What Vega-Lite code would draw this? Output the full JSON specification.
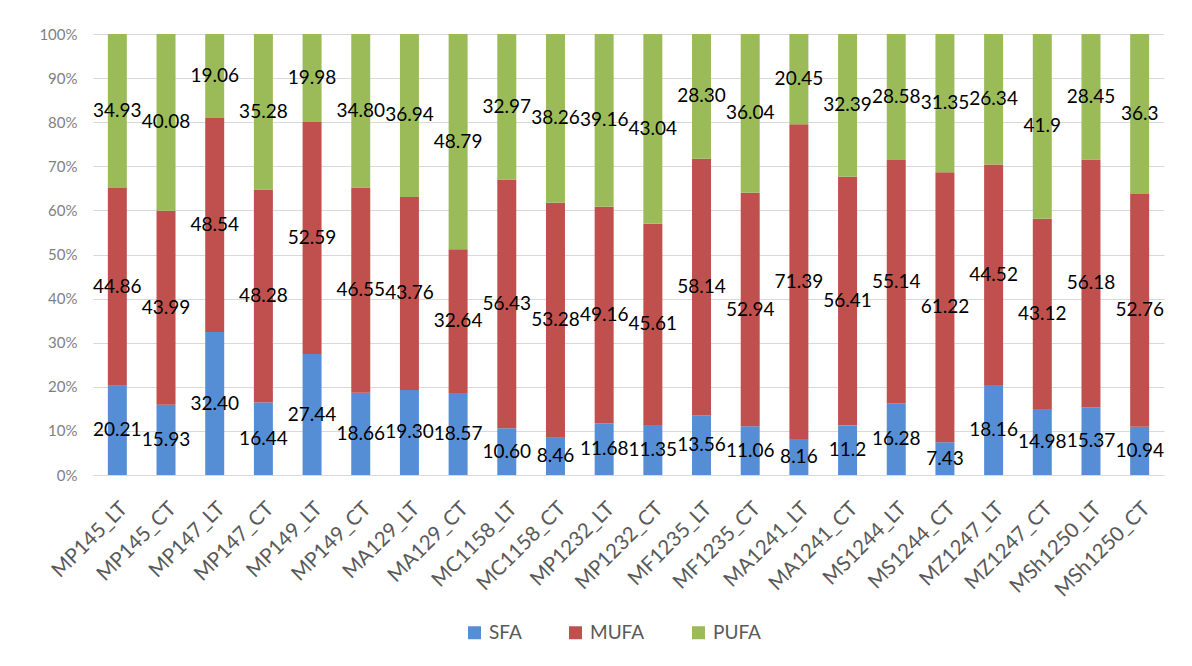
{
  "$schema": "https://vega.github.io/schema/vega-lite/v6.json",
  "width": 1071,
  "height": 441,
  "autosize": {"type": "none"},
  "padding": {"left": 93, "top": 34, "right": 28, "bottom": 191},
  "background": "white",
  "config": {
    "font": "Lato",
    "view": {"stroke": null}
  },
  "data": {
    "values": [
      {"s": "MP145_LT", "fa": "SFA", "v": 20.21, "t": "20.21"},
      {"s": "MP145_LT", "fa": "MUFA", "v": 44.86, "t": "44.86"},
      {"s": "MP145_LT", "fa": "PUFA", "v": 34.93, "t": "34.93"},
      {"s": "MP145_CT", "fa": "SFA", "v": 15.93, "t": "15.93"},
      {"s": "MP145_CT", "fa": "MUFA", "v": 43.99, "t": "43.99"},
      {"s": "MP145_CT", "fa": "PUFA", "v": 40.08, "t": "40.08"},
      {"s": "MP147_LT", "fa": "SFA", "v": 32.40, "t": "32.40"},
      {"s": "MP147_LT", "fa": "MUFA", "v": 48.54, "t": "48.54"},
      {"s": "MP147_LT", "fa": "PUFA", "v": 19.06, "t": "19.06"},
      {"s": "MP147_CT", "fa": "SFA", "v": 16.44, "t": "16.44"},
      {"s": "MP147_CT", "fa": "MUFA", "v": 48.28, "t": "48.28"},
      {"s": "MP147_CT", "fa": "PUFA", "v": 35.28, "t": "35.28"},
      {"s": "MP149_LT", "fa": "SFA", "v": 27.44, "t": "27.44"},
      {"s": "MP149_LT", "fa": "MUFA", "v": 52.59, "t": "52.59"},
      {"s": "MP149_LT", "fa": "PUFA", "v": 19.98, "t": "19.98"},
      {"s": "MP149_CT", "fa": "SFA", "v": 18.66, "t": "18.66"},
      {"s": "MP149_CT", "fa": "MUFA", "v": 46.55, "t": "46.55"},
      {"s": "MP149_CT", "fa": "PUFA", "v": 34.80, "t": "34.80"},
      {"s": "MA129_LT", "fa": "SFA", "v": 19.30, "t": "19.30"},
      {"s": "MA129_LT", "fa": "MUFA", "v": 43.76, "t": "43.76"},
      {"s": "MA129_LT", "fa": "PUFA", "v": 36.94, "t": "36.94"},
      {"s": "MA129_CT", "fa": "SFA", "v": 18.57, "t": "18.57"},
      {"s": "MA129_CT", "fa": "MUFA", "v": 32.64, "t": "32.64"},
      {"s": "MA129_CT", "fa": "PUFA", "v": 48.79, "t": "48.79"},
      {"s": "MC1158_LT", "fa": "SFA", "v": 10.60, "t": "10.60"},
      {"s": "MC1158_LT", "fa": "MUFA", "v": 56.43, "t": "56.43"},
      {"s": "MC1158_LT", "fa": "PUFA", "v": 32.97, "t": "32.97"},
      {"s": "MC1158_CT", "fa": "SFA", "v": 8.46, "t": "8.46"},
      {"s": "MC1158_CT", "fa": "MUFA", "v": 53.28, "t": "53.28"},
      {"s": "MC1158_CT", "fa": "PUFA", "v": 38.26, "t": "38.26"},
      {"s": "MP1232_LT", "fa": "SFA", "v": 11.68, "t": "11.68"},
      {"s": "MP1232_LT", "fa": "MUFA", "v": 49.16, "t": "49.16"},
      {"s": "MP1232_LT", "fa": "PUFA", "v": 39.16, "t": "39.16"},
      {"s": "MP1232_CT", "fa": "SFA", "v": 11.35, "t": "11.35"},
      {"s": "MP1232_CT", "fa": "MUFA", "v": 45.61, "t": "45.61"},
      {"s": "MP1232_CT", "fa": "PUFA", "v": 43.04, "t": "43.04"},
      {"s": "MF1235_LT", "fa": "SFA", "v": 13.56, "t": "13.56"},
      {"s": "MF1235_LT", "fa": "MUFA", "v": 58.14, "t": "58.14"},
      {"s": "MF1235_LT", "fa": "PUFA", "v": 28.30, "t": "28.30"},
      {"s": "MF1235_CT", "fa": "SFA", "v": 11.06, "t": "11.06"},
      {"s": "MF1235_CT", "fa": "MUFA", "v": 52.94, "t": "52.94"},
      {"s": "MF1235_CT", "fa": "PUFA", "v": 36.04, "t": "36.04"},
      {"s": "MA1241_LT", "fa": "SFA", "v": 8.16, "t": "8.16"},
      {"s": "MA1241_LT", "fa": "MUFA", "v": 71.39, "t": "71.39"},
      {"s": "MA1241_LT", "fa": "PUFA", "v": 20.45, "t": "20.45"},
      {"s": "MA1241_CT", "fa": "SFA", "v": 11.2, "t": "11.2"},
      {"s": "MA1241_CT", "fa": "MUFA", "v": 56.41, "t": "56.41"},
      {"s": "MA1241_CT", "fa": "PUFA", "v": 32.39, "t": "32.39"},
      {"s": "MS1244_LT", "fa": "SFA", "v": 16.28, "t": "16.28"},
      {"s": "MS1244_LT", "fa": "MUFA", "v": 55.14, "t": "55.14"},
      {"s": "MS1244_LT", "fa": "PUFA", "v": 28.58, "t": "28.58"},
      {"s": "MS1244_CT", "fa": "SFA", "v": 7.43, "t": "7.43"},
      {"s": "MS1244_CT", "fa": "MUFA", "v": 61.22, "t": "61.22"},
      {"s": "MS1244_CT", "fa": "PUFA", "v": 31.35, "t": "31.35"},
      {"s": "MZ1247_LT", "fa": "SFA", "v": 18.16, "t": "18.16"},
      {"s": "MZ1247_LT", "fa": "MUFA", "v": 44.52, "t": "44.52"},
      {"s": "MZ1247_LT", "fa": "PUFA", "v": 26.34, "t": "26.34"},
      {"s": "MZ1247_CT", "fa": "SFA", "v": 14.98, "t": "14.98"},
      {"s": "MZ1247_CT", "fa": "MUFA", "v": 43.12, "t": "43.12"},
      {"s": "MZ1247_CT", "fa": "PUFA", "v": 41.9, "t": "41.9"},
      {"s": "MSh1250_LT", "fa": "SFA", "v": 15.37, "t": "15.37"},
      {"s": "MSh1250_LT", "fa": "MUFA", "v": 56.18, "t": "56.18"},
      {"s": "MSh1250_LT", "fa": "PUFA", "v": 28.45, "t": "28.45"},
      {"s": "MSh1250_CT", "fa": "SFA", "v": 10.94, "t": "10.94"},
      {"s": "MSh1250_CT", "fa": "MUFA", "v": 52.76, "t": "52.76"},
      {"s": "MSh1250_CT", "fa": "PUFA", "v": 36.3, "t": "36.3"}
    ]
  },
  "transform": [
    {"stack": "v", "groupby": ["s"], "offset": "normalize", "as": ["s0", "s1"]}
  ],
  "encoding": {
    "x": {
      "field": "s",
      "type": "nominal",
      "sort": null,
      "title": null,
      "scale": {"paddingInner": 0.61, "paddingOuter": 0.305},
      "axis": {
        "labelAngle": -45,
        "labelFontSize": 20.5,
        "labelColor": "#595959",
        "labelPadding": 23,
        "ticks": false,
        "domain": true,
        "domainColor": "#d9d9d9",
        "domainWidth": 1
      }
    }
  },
  "layer": [
    {
      "mark": {"type": "bar"},
      "encoding": {
        "y": {
          "field": "s0",
          "type": "quantitative",
          "title": null,
          "scale": {"domain": [0, 1], "nice": false},
          "axis": {
            "values": [0, 0.1, 0.2, 0.3, 0.4, 0.5, 0.6, 0.7, 0.8, 0.9, 1],
            "format": ".0%",
            "labelFontSize": 15,
            "labelColor": "#7f7f7f",
            "labelPadding": 16,
            "ticks": false,
            "domain": false,
            "grid": true,
            "gridColor": "#d9d9d9",
            "gridWidth": 1
          }
        },
        "y2": {"field": "s1"},
        "color": {
          "field": "fa",
          "type": "nominal",
          "title": null,
          "scale": {"domain": ["SFA", "MUFA", "PUFA"], "range": ["#558ed5", "#c0504d", "#9bbb59"]},
          "legend": {
            "orient": "none",
            "direction": "horizontal",
            "legendX": 372,
            "legendY": 589,
            "symbolType": "square",
            "symbolSize": 169,
            "symbolStrokeWidth": 0,
            "labelFontSize": 19,
            "labelColor": "#595959",
            "labelOffset": 5,
            "columnPadding": 44
          }
        }
      }
    },
    {
      "transform": [
        {"fold": ["s0", "s1"], "as": ["k", "p"]}
      ],
      "mark": {"type": "text", "fontSize": 19, "color": "#000000", "baseline": "middle", "align": "center"},
      "encoding": {
        "y": {"aggregate": "mean", "field": "p", "type": "quantitative"},
        "text": {"field": "t", "type": "nominal"},
        "detail": {"field": "fa", "type": "nominal"}
      }
    }
  ]
}
